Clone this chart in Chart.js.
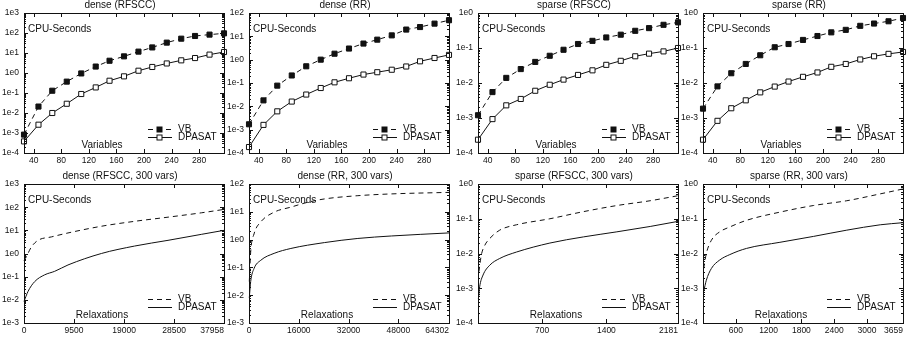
<!DOCTYPE html>
<html><head><meta charset="utf-8">
<script src="https://cdn.jsdelivr.net/npm/chart.js@4.4.0/dist/chart.umd.min.js"></script>
<style>
html,body{margin:0;padding:0;background:#fff;}
#wrap{position:relative;width:910px;height:340px;overflow:hidden;background:#fff;}
canvas{position:absolute;}
</style></head><body><div id="wrap"></div>
<script>
// ---------- data ----------
const variables = [26,47,67,88,109,130,150,171,192,212,233,254,274,295,316];
const varTicks = ['40','80','120','160','200','240','280'];

const vbDenseRFSCC = [8.3e-4,0.021,0.13,0.37,0.95,2.1,4.1,6.8,11.7,19,33,52,71,83,96];
const dpDenseRFSCC = [3.8e-4,2.6e-3,0.010,0.029,0.089,0.19,0.41,0.68,1.3,2.0,3.0,4.3,5.6,8.3,11.2];
const vbDenseRR    = [1.7e-3,0.018,0.077,0.21,0.52,1.0,1.8,3.0,4.9,7.2,11,19.5,25,35,49];
const dpDenseRR    = [1.8e-4,1.6e-3,6.1e-3,0.016,0.032,0.061,0.107,0.16,0.23,0.29,0.37,0.51,0.85,1.18,1.6];
const vbSparseRFSCC= [1.2e-3,5.5e-3,0.014,0.025,0.040,0.060,0.089,0.13,0.16,0.20,0.24,0.31,0.37,0.46,0.54];
const dpSparseRFSCC= [2.4e-4,9.3e-4,2.3e-3,3.5e-3,6.0e-3,8.9e-3,0.0125,0.017,0.023,0.033,0.043,0.058,0.069,0.080,0.10];
const vbSparseRR   = [1.85e-3,8e-3,0.019,0.035,0.062,0.105,0.13,0.17,0.22,0.28,0.33,0.43,0.50,0.58,0.72];
const dpSparseRR   = [2.4e-4,8.3e-4,1.9e-3,3.2e-3,5.4e-3,7.9e-3,0.011,0.015,0.020,0.029,0.035,0.047,0.058,0.068,0.077];

const relaxDenseRFSCC_vb = [0,440,1390,2660,5190,8350,14680,21000,27330,33650,37958];
const vbRelaxDenseRFSCC  = [0.5,0.72,1.9,3.7,5.2,7.7,15,24.5,37,57,80];
const relaxDenseRFSCC_dp = [0,760,2020,3920,5820,8350,14680,21000,27330,33650,37958];
const dpRelaxDenseRFSCC  = [0.0085,0.023,0.061,0.12,0.17,0.32,1.0,2.1,3.7,6.7,10];

const relaxDenseRR_vb = [100,540,1615,3770,8080,13460,18850,24230,35000,45780,64302];
const vbRelaxDenseRR  = [0.031,0.36,1.6,4.3,9.7,14.7,22,29,38,44,50];
const relaxDenseRR_dp = [100,540,1615,3770,8080,13460,24230,35000,45780,64302];
const dpRelaxDenseRR  = [0.008,0.031,0.091,0.18,0.32,0.48,0.78,1.1,1.35,1.74];

const relaxSparseRFSCC_vb = [10,36,73,128,237,419,784,1149,1514,1878,2181];
const vbRelaxSparseRFSCC  = [0.003,0.009,0.017,0.027,0.047,0.067,0.10,0.16,0.24,0.33,0.46];
const relaxSparseRFSCC_dp = [4,18,55,128,237,419,784,1149,1514,1878,2181];
const dpRelaxSparseRFSCC  = [5e-4,1.1e-3,2.4e-3,4.6e-3,7.2e-3,0.011,0.020,0.030,0.042,0.060,0.084];

const relaxSparseRR_vb = [12,61,153,306,490,795,1407,2019,2631,3243,3659];
const vbRelaxSparseRR  = [3.7e-3,0.010,0.024,0.042,0.058,0.090,0.155,0.24,0.33,0.52,0.72];
const relaxSparseRR_dp = [12,61,153,306,490,795,1407,2019,2631,3243,3659];
const dpRelaxSparseRR  = [8e-4,1.7e-3,3.7e-3,6.5e-3,9.3e-3,0.014,0.021,0.031,0.047,0.067,0.077];

const yTicks3to_4 = ['1e-4','1e-3','1e-2','1e-1','1e0','1e1','1e2','1e3'];
const yTicks2to_4 = ['1e-4','1e-3','1e-2','1e-1','1e0','1e1','1e2'];
const yTicks0to_4 = ['1e-4','1e-3','1e-2','1e-1','1e0'];
const yTicks3to_3 = ['1e-3','1e-2','1e-1','1e0','1e1','1e2','1e3'];
const yTicks2to_3 = ['1e-3','1e-2','1e-1','1e0','1e1','1e2'];

const xTicksDenseRFSCC = ['0','9500','19000','28500','37958'];
const xTicksDenseRR    = ['0','16000','32000','48000','64302'];
const xTicksSparseRFSCC= ['700','1400','2181'];
const xTicksSparseRR   = ['600','1200','1800','2400','3000','3659'];

const titles = ['dense (RFSCC)','dense (RR)','sparse (RFSCC)','sparse (RR)',
  'dense (RFSCC, 300 vars)','dense (RR, 300 vars)','sparse (RFSCC, 300 vars)','sparse (RR, 300 vars)'];
const seriesNames = ['VB','DPASAT'];
const yAxisLabel = 'CPU-Seconds';
const xAxisLabels = ['Variables','Relaxations'];

// ---------- layout ----------
const cols = [[24,224],[249,449],[478,678],[703,903]];
const rows = [[13,153],[184,323]];

const panels = [
  {xv:variables, xd:variables, vb:vbDenseRFSCC, dp:dpDenseRFSCC, xt:varTicks, yt:yTicks3to_4, xmin:26, xmax:316, marks:true},
  {xv:variables, xd:variables, vb:vbDenseRR, dp:dpDenseRR, xt:varTicks, yt:yTicks2to_4, xmin:26, xmax:316, marks:true},
  {xv:variables, xd:variables, vb:vbSparseRFSCC, dp:dpSparseRFSCC, xt:varTicks, yt:yTicks0to_4, xmin:26, xmax:316, marks:true},
  {xv:variables, xd:variables, vb:vbSparseRR, dp:dpSparseRR, xt:varTicks, yt:yTicks0to_4, xmin:26, xmax:316, marks:true},
  {xv:relaxDenseRFSCC_vb, xd:relaxDenseRFSCC_dp, vb:vbRelaxDenseRFSCC, dp:dpRelaxDenseRFSCC, xt:xTicksDenseRFSCC, yt:yTicks3to_3, xmin:0, xmax:37958, marks:false},
  {xv:relaxDenseRR_vb, xd:relaxDenseRR_dp, vb:vbRelaxDenseRR, dp:dpRelaxDenseRR, xt:xTicksDenseRR, yt:yTicks2to_3, xmin:0, xmax:64302, marks:false},
  {xv:relaxSparseRFSCC_vb, xd:relaxSparseRFSCC_dp, vb:vbRelaxSparseRFSCC, dp:dpRelaxSparseRFSCC, xt:xTicksSparseRFSCC, yt:yTicks0to_4, xmin:0, xmax:2181, marks:false},
  {xv:relaxSparseRR_vb, xd:relaxSparseRR_dp, vb:vbRelaxSparseRR, dp:dpRelaxSparseRR, xt:xTicksSparseRR, yt:yTicks0to_4, xmin:0, xmax:3659, marks:false},
];

const FONT = '"Liberation Sans", Arial, sans-serif';
const INK = '#111';
const PADL = 30, PADT = 18, PADR = 22, PADB = 18;

const decor = {
  id:'decor',
  afterDatasetsDraw(chart, args, o){
    const ctx = chart.ctx, a = chart.chartArea;
    const xs = chart.scales.x, ys = chart.scales.y;
    ctx.save();
    ctx.strokeStyle = INK; ctx.lineWidth = 1;
    ctx.strokeRect(Math.round(a.left)+0.5, Math.round(a.top)+0.5, Math.round(a.right-a.left), Math.round(a.bottom-a.top));
    ctx.beginPath();
    ys.ticks.forEach(t=>{
      const y = Math.round(ys.getPixelForValue(t.value))+0.5;
      ctx.moveTo(a.left, y); ctx.lineTo(a.left+4, y);
      ctx.moveTo(a.right, y); ctx.lineTo(a.right-4, y);
      for (let k=2;k<10;k++){
        const v = k*t.value; if (v >= ys.max) break;
        const yy = Math.round(ys.getPixelForValue(v))+0.5;
        ctx.moveTo(a.left, yy); ctx.lineTo(a.left+2, yy);
        ctx.moveTo(a.right, yy); ctx.lineTo(a.right-2, yy);
      }
    });
    xs.ticks.forEach(t=>{
      const x = Math.round(xs.getPixelForValue(t.value))+0.5;
      ctx.moveTo(x, a.bottom); ctx.lineTo(x, a.bottom-4);
      ctx.moveTo(x, a.top); ctx.lineTo(x, a.top+4);
    });
    ctx.stroke();
    // texts
    ctx.fillStyle = INK;
    ctx.font = '10px ' + FONT;
    ctx.textBaseline = 'middle';
    ctx.textAlign = 'center';
    ctx.fillText(o.title, (a.left+a.right)/2 - 4, a.top - 8);
    ctx.textAlign = 'left';
    ctx.fillText(yAxisLabel, a.left + 4, a.top + 16);
    ctx.textAlign = 'center';
    ctx.fillText(o.xlabel, a.left + 78, a.bottom - 8);
    // legend
    const ds = chart.data.datasets;
    const ly = [a.bottom - 24, a.bottom - 16];
    ds.forEach((d,i)=>{
      const y = Math.round(ly[i])+0.5;
      ctx.save();
      ctx.strokeStyle = INK; ctx.lineWidth = 1;
      ctx.setLineDash(d.borderDash || []);
      ctx.beginPath(); ctx.moveTo(a.right-76, y); ctx.lineTo(a.right-52, y); ctx.stroke();
      ctx.restore();
      if (o.marks){
        ctx.save();
        ctx.fillStyle = d.pointBackgroundColor; ctx.strokeStyle = INK;
        ctx.fillRect(a.right-67, y-2.5, 5, 5);
        ctx.strokeRect(a.right-67, y-2.5, 5, 5);
        ctx.restore();
      }
      ctx.textAlign = 'left';
      ctx.fillText(d.label, a.right - 46, y);
    });
    ctx.restore();
  }
};

const wrap = document.getElementById('wrap');
panels.forEach((p, idx)=>{
  const [l, r] = cols[idx % 4];
  const [t, b] = rows[Math.floor(idx / 4)];
  const bottomRow = idx >= 4;
  const cv = document.createElement('canvas');
  const W = (r - l) + PADL + PADR, H = (b - t) + PADT + PADB;
  cv.width = W; cv.height = H;
  cv.style.left = (l - PADL) + 'px'; cv.style.top = (t - PADT) + 'px';
  cv.style.width = W + 'px'; cv.style.height = H + 'px';
  wrap.appendChild(cv);
  // bottom row: a blank leading tick so that only the last label is right-aligned ('inner')
  const xLabels = bottomRow ? [''].concat(p.xt) : p.xt;
  const xNums = bottomRow ? [p.xmin].concat(p.xt.map(Number)) : p.xt.map(Number);
  const yNums = p.yt.map(Number);
  new Chart(cv, {
    type:'line',
    data:{datasets:[
      {label:seriesNames[0], data:p.xv.map((x,i)=>({x, y:p.vb[i]})), borderColor:INK, borderWidth:1,
       borderDash:[5,4], pointStyle:'rect', pointRadius:p.marks?3.6:0, pointBackgroundColor:INK,
       pointBorderColor:INK, pointBorderWidth:1, cubicInterpolationMode:p.marks?'default':'monotone',
       tension:p.marks?0:0.4, clip:false},
      {label:seriesNames[1], data:p.xd.map((x,i)=>({x, y:p.dp[i]})), borderColor:INK, borderWidth:1,
       pointStyle:'rect', pointRadius:p.marks?3.6:0, pointBackgroundColor:'#fff',
       pointBorderColor:INK, pointBorderWidth:1, cubicInterpolationMode:p.marks?'default':'monotone',
       tension:p.marks?0:0.4, clip:false}
    ]},
    options:{
      responsive:false, animation:false, devicePixelRatio:1,
      layout:{padding:{left:0, top:PADT, right:PADR, bottom:0}},
      plugins:{legend:{display:false}, tooltip:{enabled:false},
        decor:{title:titles[idx], xlabel:xAxisLabels[bottomRow?1:0], marks:p.marks}},
      scales:{
        x:{type:'linear', min:p.xmin, max:p.xmax, grid:{display:false, drawTicks:false}, border:{display:false},
           afterBuildTicks:(s)=>{ s.ticks = xNums.map(v=>({value:v})); },
           afterFit:(s)=>{ s.height = PADB; s.paddingLeft = 0; s.paddingRight = 0; },
           ticks:{autoSkip:false, maxRotation:0, minRotation:0, padding:3, color:INK,
             align: bottomRow ? 'inner' : 'center',
             font:{family:FONT, size:8.5}, callback:(v,i)=>xLabels[i]}},
        y:{type:'logarithmic', min:yNums[0], max:yNums[yNums.length-1], grid:{display:false, drawTicks:false}, border:{display:false},
           afterBuildTicks:(s)=>{ s.ticks = yNums.map(v=>({value:v})); },
           afterFit:(s)=>{ s.width = PADL; },
           ticks:{autoSkip:false, padding:5, color:INK, font:{family:FONT, size:8.5}, callback:(v,i)=>p.yt[i]}}
      }
    },
    plugins:[decor]
  });
});
</script></body></html>
